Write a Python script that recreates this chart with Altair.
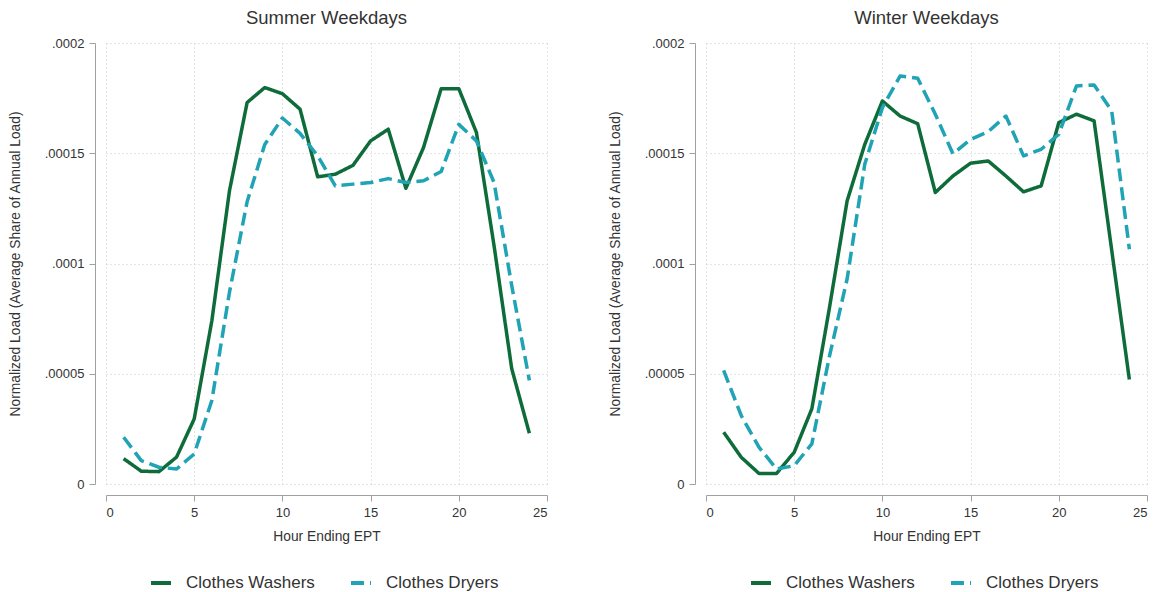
import altair as alt
import pandas as pd

hours = list(range(1, 25))
series_names = ["Clothes Washers", "Clothes Dryers"]
panel_titles = ["Summer Weekdays", "Winter Weekdays"]

summer_washers = [1.15e-5, 5.8e-6, 5.6e-6, 1.22e-5, 2.95e-5, 7.4e-5, 1.33e-4, 1.73e-4,
                  1.798e-4, 1.77e-4, 1.70e-4, 1.393e-4, 1.405e-4, 1.445e-4, 1.556e-4, 1.609e-4,
                  1.341e-4, 1.526e-4, 1.793e-4, 1.793e-4, 1.594e-4, 1.08e-4, 5.23e-5, 2.3e-5]
summer_dryers = [2.12e-5, 1.06e-5, 7.6e-6, 6.8e-6, 1.36e-5, 3.79e-5, 8.7e-5, 1.28e-4,
                 1.54e-4, 1.66e-4, 1.59e-4, 1.488e-4, 1.352e-4, 1.36e-4, 1.367e-4, 1.385e-4,
                 1.367e-4, 1.375e-4, 1.417e-4, 1.631e-4, 1.556e-4, 1.367e-4, 9.0e-5, 4.7e-5]
winter_washers = [2.35e-5, 1.21e-5, 4.8e-6, 4.8e-6, 1.44e-5, 3.41e-5, 8.0e-5, 1.284e-4,
                  1.54e-4, 1.737e-4, 1.669e-4, 1.634e-4, 1.322e-4, 1.397e-4, 1.455e-4, 1.465e-4,
                  1.397e-4, 1.325e-4, 1.352e-4, 1.639e-4, 1.677e-4, 1.647e-4, 1.06e-4, 4.74e-5]
winter_dryers = [5.15e-5, 3.1e-5, 1.67e-5, 6.8e-6, 8.3e-6, 1.82e-5, 5.8e-5, 9.3e-5,
                 1.45e-4, 1.707e-4, 1.85e-4, 1.84e-4, 1.677e-4, 1.497e-4, 1.563e-4, 1.598e-4,
                 1.669e-4, 1.488e-4, 1.518e-4, 1.586e-4, 1.805e-4, 1.81e-4, 1.692e-4, 1.065e-4]

x_ticks = [0, 5, 10, 15, 20, 25]
y_ticks = [0, 0.00005, 0.0001, 0.00015, 0.0002]

colors = ["#0e6c3b", "#1fa3b5"]
dashes = [[1, 0], [13, 6]]

rows = []
for panel, data in [(panel_titles[0], [summer_washers, summer_dryers]),
                    (panel_titles[1], [winter_washers, winter_dryers])]:
    for s, vals in zip(series_names, data):
        for h, v in zip(hours, vals):
            rows.append({"panel": panel, "series": s, "hour": h, "value": v})
df = pd.DataFrame(rows)


def make_panel(title):
    legend = alt.Legend(title=None, orient="none", legendX=43, legendY=528,
                        direction="horizontal")
    return alt.Chart(df).transform_filter(alt.datum.panel == title).mark_line(
        strokeWidth=3.5, strokeJoin="round"
    ).encode(
        x=alt.X("hour:Q", scale=alt.Scale(domain=[0, 25], nice=False),
                axis=alt.Axis(values=x_ticks, title="Hour Ending EPT", offset=11,
                              labelPadding=5, titlePadding=10, format="d")),
        y=alt.Y("value:Q", scale=alt.Scale(domain=[0, 0.0002], nice=False),
                axis=alt.Axis(values=y_ticks,
                              labelExpr="datum.value == 0 ? '0' : substring(format(datum.value, '.5~f'), 1)",
                              title="Normalized Load (Average Share of Annual Load)",
                              offset=11, labelPadding=5, titlePadding=22)),
        color=alt.Color("series:N", scale=alt.Scale(domain=series_names, range=colors),
                        legend=legend),
        strokeDash=alt.StrokeDash("series:N", scale=alt.Scale(domain=series_names, range=dashes),
                                  legend=legend),
    ).properties(width=441, height=441, title=alt.TitleParams(title, anchor="middle", offset=10))


chart = alt.hconcat(make_panel(panel_titles[0]), make_panel(panel_titles[1]), spacing=60).resolve_scale(
    color="independent", strokeDash="independent"
).properties(
    padding={"left": 0, "top": 0, "right": 0, "bottom": 0}
).configure(
    font="Liberation Sans"
).configure_view(
    strokeWidth=0
).configure_axis(
    labelFontSize=13, labelColor="#333333", titleFontSize=13.8, titleColor="#333333",
    titleFontWeight="normal", domainColor="#a0a0a0", tickColor="#a0a0a0", tickSize=6,
    gridColor="#c8c8c8", gridDash=[1, 3], gridWidth=1
).configure_title(
    fontSize=18.5, fontWeight="normal", color="#333333"
).configure_legend(
    labelFontSize=17, labelColor="#333333", symbolType="stroke", symbolSize=400,
    symbolStrokeWidth=4, columnPadding=28, labelOffset=13, padding=0
)

chart.save("out.html", embed_options={"renderer": "svg", "actions": False})
